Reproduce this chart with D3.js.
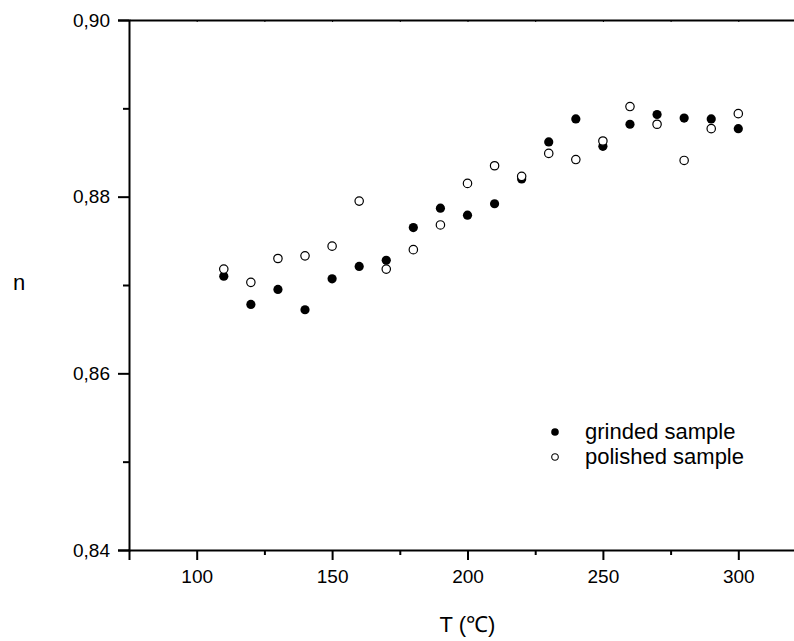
<!DOCTYPE html>
<html>
<head>
<meta charset="utf-8">
<script src="https://cdn.jsdelivr.net/npm/d3@7"></script>
<style>
  body { margin: 0; background: #fff; }
  svg { display: block; font-family: "Liberation Sans", Arial, sans-serif; }
  .axis path, .axis line { stroke: #000; }
  .axis text { fill: #000; font-size: 19px; font-family: "Liberation Sans", Arial, sans-serif; }
</style>
</head>
<body>
<div id="chart"></div>
<script>
// T (°C) values
var temps = [110, 120, 130, 140, 150, 160, 170, 180, 190, 200,
             210, 220, 230, 240, 250, 260, 270, 280, 290, 300];
// refractive index n
var grinded = [0.8710, 0.8678, 0.8695, 0.8672, 0.8707, 0.8721, 0.8728, 0.8765, 0.8787, 0.8779,
               0.8792, 0.8820, 0.8862, 0.8888, 0.8857, 0.8882, 0.8893, 0.8889, 0.8888, 0.8877];
var polished = [0.8718, 0.8703, 0.8730, 0.8733, 0.8744, 0.8795, 0.8718, 0.8740, 0.8768, 0.8815,
                0.8835, 0.8823, 0.8849, 0.8842, 0.8863, 0.8902, 0.8882, 0.8841, 0.8877, 0.8894];
var xTicks = [100, 150, 200, 250, 300];
var xMinor = [125, 175, 225, 275];
var yTicks = [0.84, 0.86, 0.88, 0.90];
var yMinor = [0.85, 0.87, 0.89];
var seriesNames = ["grinded sample", "polished sample"];

var W = 794, H = 641;
var margin = { left: 129, top: 20, bottom: 91 };

var x = d3.scaleLinear().domain([75, 325]).range([margin.left, 806]);
var y = d3.scaleLinear().domain([0.84, 0.90]).range([H - margin.bottom, margin.top]);

var svg = d3.select("#chart").append("svg")
    .attr("width", W)
    .attr("height", H);

var fmt = function(d) { return d3.format(".2f")(d).replace(".", ","); };

// bottom axis
svg.append("g")
    .attr("class", "axis")
    .attr("transform", "translate(0," + y(0.84) + ")")
    .call(d3.axisBottom(x).tickValues(xTicks).tickSize(10).tickPadding(10).tickFormat(d3.format("d")))
    .call(function(g) { g.select(".domain").attr("stroke-width", 2); g.selectAll(".tick line").attr("stroke-width", 2); });

svg.append("g")
    .attr("class", "axis")
    .attr("transform", "translate(0," + y(0.84) + ")")
    .call(d3.axisBottom(x).tickValues(xMinor).tickSize(5).tickFormat(""))
    .call(function(g) { g.select(".domain").remove(); g.selectAll(".tick line").attr("stroke-width", 2); });

// top axis (tiny inner ticks)
svg.append("g")
    .attr("class", "axis")
    .attr("transform", "translate(0," + y(0.90) + ")")
    .call(d3.axisBottom(x).tickValues(xTicks.concat(xMinor)).tickSizeInner(2).tickSizeOuter(0).tickFormat(""))
    .call(function(g) { g.select(".domain").attr("stroke-width", 2); g.selectAll(".tick line").attr("stroke", "#666"); });

// left axis
svg.append("g")
    .attr("class", "axis")
    .attr("transform", "translate(" + margin.left + ",0)")
    .call(d3.axisLeft(y).tickValues(yTicks).tickSize(11).tickPadding(8).tickFormat(fmt))
    .call(function(g) { g.select(".domain").attr("stroke-width", 2); g.selectAll(".tick line").attr("stroke-width", 2); });

svg.append("g")
    .attr("class", "axis")
    .attr("transform", "translate(" + margin.left + ",0)")
    .call(d3.axisLeft(y).tickValues(yMinor).tickSize(6).tickFormat(""))
    .call(function(g) { g.select(".domain").remove(); g.selectAll(".tick line").attr("stroke-width", 2); });

// axis titles
svg.append("text")
    .attr("x", 19)
    .attr("y", y(0.87) + 5)
    .attr("text-anchor", "middle")
    .style("font-size", "22px")
    .text("n");

svg.append("text")
    .attr("x", x(200))
    .attr("y", 632)
    .attr("text-anchor", "middle")
    .style("font-size", "22px")
    .text("T (\u2103)");

// points
var pts = temps.map(function(t, i) { return { t: t, g: grinded[i], p: polished[i] }; });

svg.selectAll(".grinded")
    .data(pts)
    .enter().append("circle")
    .attr("class", "grinded")
    .attr("cx", function(d) { return x(d.t); })
    .attr("cy", function(d) { return y(d.g); })
    .attr("r", 4.6)
    .attr("fill", "#000");

svg.selectAll(".polished")
    .data(pts)
    .enter().append("circle")
    .attr("class", "polished")
    .attr("cx", function(d) { return x(d.t); })
    .attr("cy", function(d) { return y(d.p); })
    .attr("r", 4.2)
    .attr("fill", "#fff")
    .attr("stroke", "#000")
    .attr("stroke-width", 1.2);

// legend
var legend = svg.append("g").attr("transform", "translate(555,432)");
seriesNames.forEach(function(name, i) {
    var row = legend.append("g").attr("transform", "translate(0," + i * 25 + ")");
    row.append("circle")
        .attr("r", i === 0 ? 3.8 : 3.3)
        .attr("fill", i === 0 ? "#000" : "#fff")
        .attr("stroke", "#000")
        .attr("stroke-width", i === 0 ? 0 : 1.1);
    row.append("text")
        .attr("x", 30)
        .attr("y", 7)
        .style("font-size", "22px")
        .text(name);
});
</script>
</body>
</html>
